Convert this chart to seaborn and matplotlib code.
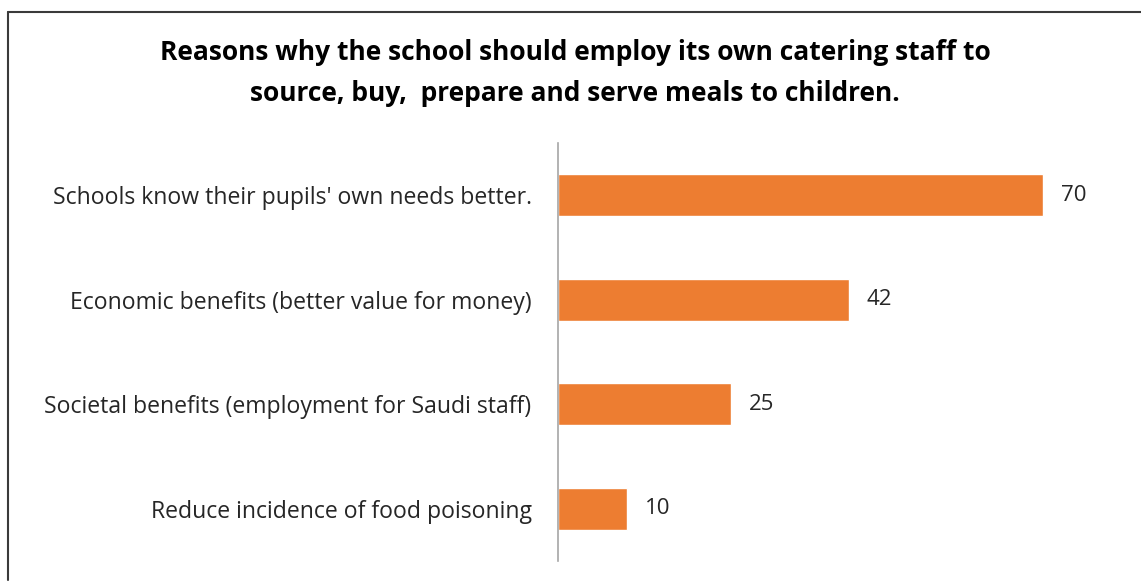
import matplotlib
matplotlib.use("Agg")
import matplotlib.pyplot as plt
from matplotlib.lines import Line2D
import seaborn as sns
import pandas as pd

reasons = [
    "Schools know their pupils' own needs better.",
    "Economic benefits (better value for money)",
    "Societal benefits (employment for Saudi staff)",
    "Reduce incidence of food poisoning",
]
counts = [70, 42, 25, 10]

title = ("Reasons why the school should employ its own catering staff to\n"
         "source, buy,  prepare and serve meals to children.")

sns.set_theme(style="white")
plt.rcParams["font.family"] = ["Open Sans", "DejaVu Sans"]

df = pd.DataFrame({"reason": reasons, "count": counts})

W, H = 1141, 583
fig = plt.figure(figsize=(W / 100, H / 100), dpi=100)
fig.patch.set_facecolor("white")

ax = fig.add_axes([558 / W, (H - 561) / H, (1112 - 558) / W, (561 - 143) / H])
sns.barplot(data=df, x="count", y="reason", orient="h", color="#ED7D31",
            saturation=1, width=0.4, ax=ax)

ax.set_xlim(0, 80)
ax.set_ylim(3.5, -0.5)
ax.set_xlabel("")
ax.set_ylabel("")
ax.set_xticks([])
ax.tick_params(axis="y", length=0, pad=19, labelsize=16.6, labelcolor="#262626")

for side in ("top", "right", "bottom"):
    ax.spines[side].set_visible(False)
ax.spines["left"].set_color("#A6A6A6")
ax.spines["left"].set_linewidth(1.2)

for container in ax.containers:
    ax.bar_label(container, labels=[str(v) for v in counts], padding=13,
                 fontsize=16, color="#262626")

fig.text(575 / W, 1 - 73 / H, title, ha="center", va="center",
         fontsize=19, fontweight="bold", color="#000000", linespacing=1.7)

# outer chart frame
fig.add_artist(Line2D([8 / W, 1.0], [1 - 12 / H, 1 - 12 / H],
                      transform=fig.transFigure, color="#3a3a3a", lw=1.5))
fig.add_artist(Line2D([8 / W, 8 / W], [1 - 12 / H, 1 - 580 / H],
                      transform=fig.transFigure, color="#3a3a3a", lw=1.5))

fig.savefig("out.png", dpi=100)
